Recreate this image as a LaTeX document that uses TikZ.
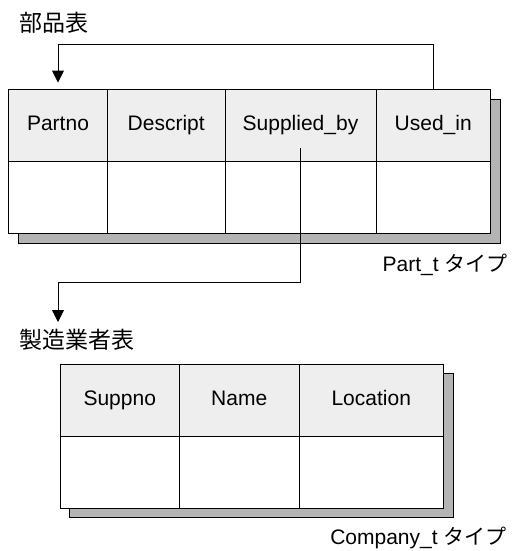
\documentclass[tikz,border=0pt]{standalone}
\usepackage{fontspec}
\setmainfont{Liberation Sans}
\newfontfamily\jpfont{Noto Sans CJK JP}
\usetikzlibrary{arrows.meta}
\definecolor{headgray}{HTML}{EEEEEE}
\definecolor{shadegray}{HTML}{B4B4B4}

\begin{document}
\begin{tikzpicture}[x=1pt, y=-1pt, line width=1pt,
    every node/.style={font=\fontsize{21}{24}\selectfont},
    cell/.style={rectangle, draw, inner sep=0pt, minimum height=72pt, text height=15pt, text depth=5pt, anchor=north west},
    headcell/.style={cell, fill=headgray},
    bodycell/.style={cell, fill=white},
    shade/.style={draw, fill=shadegray},
    title/.style={inner sep=0pt, font=\fontsize{23}{26}\jpfont},
    typelabel/.style={inner sep=0pt, anchor=east},
    link/.style={-{Triangle[width=12pt,length=12pt]}}]
    \useasboundingbox (0,0) rectangle (511,551);
    % Shadows
    \draw[shade] (18,99) rectangle (500,243);
    \draw[shade] (69,373) rectangle (453,517);
    % Nodes
    \node[title, anchor=west] (partlbl) at (19,23) {部品表};
    \node[headcell, minimum width=99pt] (partno) at (8,89) {Partno};
    \node[headcell, minimum width=117.5pt] (descript) at (107,89) {Descript};
    \node[headcell, minimum width=151pt] (supplied) at (224.5,89) {Supplied\_by};
    \node[headcell, minimum width=114.5pt] (used) at (375.5,89) {Used\_in};
    \node[bodycell, minimum width=99pt] (b1) at (8,161) {};
    \node[bodycell, minimum width=117.5pt] (b2) at (107,161) {};
    \node[bodycell, minimum width=151pt] (b3) at (224.5,161) {};
    \node[bodycell, minimum width=114.5pt] (b4) at (375.5,161) {};
    \node[typelabel] (parttype) at (508,265) {Part\_t {\jpfont タイプ}};
    \node[title, anchor=west] (mfrlbl) at (19,340) {製造業者表};
    \node[headcell, minimum width=119.5pt] (suppno) at (59.5,363.5) {Suppno};
    \node[headcell, minimum width=119.5pt] (name) at (179,363.5) {Name};
    \node[headcell, minimum width=144.5pt] (location) at (298.5,363.5) {Location};
    \node[bodycell, minimum width=119.5pt] (c1) at (59.5,435.5) {};
    \node[bodycell, minimum width=119.5pt] (c2) at (179,435.5) {};
    \node[bodycell, minimum width=144.5pt] (c3) at (298.5,435.5) {};
    \node[typelabel] (comptype) at (507,538) {Company\_t {\jpfont タイプ}};
    \coordinate (loop) at (58,45);
    \coordinate (sb) at ([yshift=-22pt]supplied.center);
    \coordinate (bend) at (58,282);
    \coordinate (mfrin) at (58,322);
    % Edges
    \draw[link, shorten >=6.5pt] (used.north) |- (loop) -- (partno.north);
    \draw[link] (sb) |- (bend) -- (mfrin);
\end{tikzpicture}
\end{document}
